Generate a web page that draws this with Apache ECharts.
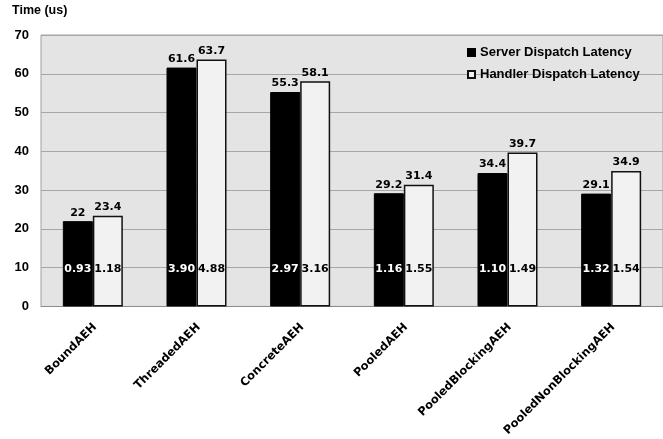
<!DOCTYPE html>
<html>
<head>
<meta charset="utf-8">
<script src="https://cdn.jsdelivr.net/npm/echarts@6/dist/echarts.min.js"></script>
<style>
  html, body { margin: 0; padding: 0; background: #fff; }
  #chart { width: 663px; height: 439px; }
</style>
</head>
<body>
<div id="chart"></div>
<script>
// Dispatch latency per event handler type
const categories = ['BoundAEH', 'ThreadedAEH', 'ConcreteAEH', 'PooledAEH', 'PooledBlockingAEH', 'PooledNonBlockingAEH'];
const serverLatency = [22, 61.6, 55.3, 29.2, 34.4, 29.1];
const handlerLatency = [23.4, 63.7, 58.1, 31.4, 39.7, 34.9];
// secondary figures printed near the foot of each bar
const serverInner = [0.93, 3.90, 2.97, 1.16, 1.10, 1.32];
const handlerInner = [1.18, 4.88, 3.16, 1.55, 1.49, 1.54];
const yTicks = [0, 10, 20, 30, 40, 50, 60, 70];

const chart = echarts.init(document.getElementById('chart'), null, { renderer: 'canvas' });

const topLabel = {
  show: true,
  position: 'top',
  distance: 3,
  fontFamily: 'DejaVu Sans',
  fontWeight: 'bold',
  fontSize: 11,
  color: '#000'
};

function innerLabel(color) {
  return {
    show: true,
    position: 'insideBottom',
    distance: 32,
    fontFamily: 'DejaVu Sans',
    fontWeight: 'bold',
    fontSize: 11,
    color: color,
    formatter: p => p.value.toFixed(2)
  };
}

const fmt = v => (Math.round(v * 10) / 10).toString();

chart.setOption({
  animation: false,
  backgroundColor: '#fff',
  title: {
    text: 'Time (us)',
    left: 12,
    top: 4,
    padding: 0,
    textStyle: { fontFamily: 'Liberation Sans', fontWeight: 'bold', fontSize: 12.5, color: '#000' }
  },
  legend: {
    orient: 'vertical',
    left: 462,
    top: 41,
    itemWidth: 7,
    itemHeight: 7,
    itemGap: 9,
    icon: 'rect',
    data: ['Server Dispatch Latency', 'Handler Dispatch Latency'],
    textStyle: { fontFamily: 'Liberation Sans', fontWeight: 'bold', fontSize: 13, color: '#000' }
  },
  grid: {
    left: 41,
    top: 35,
    width: 634,
    height: 273,
    show: true,
    backgroundColor: '#e4e4e4',
    borderColor: '#a0a0a0',
    borderWidth: 1,
    containLabel: false
  },
  xAxis: [
    {
      type: 'category',
      data: categories,
      axisLine: { show: true, lineStyle: { color: '#8c8c8c', width: 1 } },
      axisTick: { show: false },
      axisLabel: {
        rotate: 45,
        margin: 21,
        interval: 0,
        padding: [0, -3, 0, 0],
        fontFamily: 'DejaVu Sans',
        fontWeight: 'bold',
        fontSize: 11.5,
        color: '#000'
      }
    },
    {
      type: 'category',
      data: categories,
      position: 'bottom',
      show: false
    }
  ],
  yAxis: {
    type: 'value',
    min: 0,
    max: 70,
    interval: 10,
    axisLine: { show: false },
    axisTick: { show: false },
    splitLine: { lineStyle: { color: '#a6a6a6', width: 1 } },
    axisLabel: {
      margin: 12,
      fontFamily: 'Liberation Sans',
      fontWeight: 'bold',
      fontSize: 13,
      color: '#000',
      formatter: v => yTicks.includes(v) ? String(v) : ''
    }
  },
  series: [
    {
      name: 'Server Dispatch Latency',
      type: 'bar',
      xAxisIndex: 0,
      data: serverLatency,
      barWidth: 30,
      barGap: '0%',
      itemStyle: { color: '#000', borderColor: '#000', borderWidth: 1 },
      label: Object.assign({}, topLabel, { formatter: p => fmt(p.value) })
    },
    {
      name: 'Handler Dispatch Latency',
      type: 'bar',
      xAxisIndex: 0,
      data: handlerLatency,
      barWidth: 30,
      barGap: '0%',
      itemStyle: { color: '#f2f2f2', borderColor: '#111', borderWidth: 1.5 },
      label: Object.assign({}, topLabel, { formatter: p => fmt(p.value) })
    },
    {
      name: 'server-inner',
      type: 'bar',
      xAxisIndex: 1,
      data: serverInner,
      barWidth: 30,
      barGap: '0%',
      silent: true,
      itemStyle: { color: 'rgba(0,0,0,0)' },
      label: innerLabel('#fff'),
      z: 5
    },
    {
      name: 'handler-inner',
      type: 'bar',
      xAxisIndex: 1,
      data: handlerInner,
      barWidth: 30,
      barGap: '0%',
      silent: true,
      itemStyle: { color: 'rgba(0,0,0,0)' },
      label: innerLabel('#000'),
      z: 5
    }
  ]
});
</script>
</body>
</html>
